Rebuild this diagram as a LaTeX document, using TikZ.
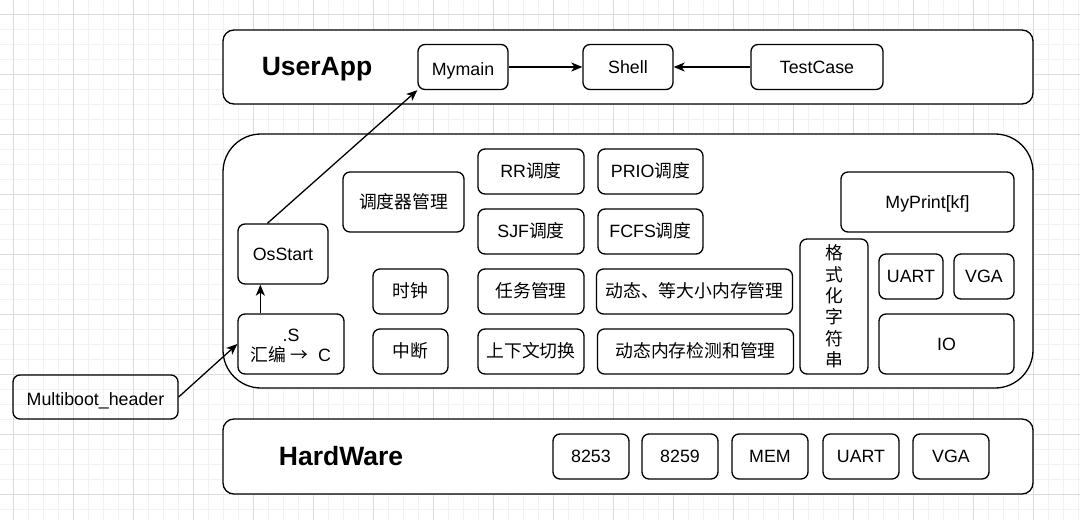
\documentclass[tikz,border=0pt]{standalone}
\usepackage{fontspec}
\setmainfont{Liberation Sans}
\newfontfamily\cjk{Noto Sans CJK SC}
\usepackage{xcolor}
\usetikzlibrary{arrows.meta}
\definecolor{gridminor}{HTML}{F2F2F2}
\definecolor{gridmajor}{HTML}{DCDCDC}

\begin{document}
\begin{tikzpicture}[x=1pt, y=-1pt,
  box/.style={draw, line width=1.3pt, rounded corners=7pt, inner sep=0pt, align=center,
    font=\fontsize{17.8}{21.4}\selectfont, text height=12.75pt, text depth=0pt},
  lowtext/.style={text height=17.3pt},
  layer/.style={draw, line width=1.3pt, inner sep=0pt, minimum width=810pt},
  title/.style={font=\fontsize{26.5}{30}\selectfont\bfseries, text height=19pt, text depth=0pt},
  link/.style={-{Stealth[length=11pt,width=9pt,inset=3pt]}, line width=1.3pt}]
\useasboundingbox (0,0) rectangle (1080,520);

\foreach \i in {0,...,72} \draw[gridminor, line width=1pt] ({-1.5+15*\i},0) -- ({-1.5+15*\i},520);
\foreach \j in {0,...,35} \draw[gridminor, line width=1pt] (0,{-1+15*\j}) -- (1080,{-1+15*\j});
\foreach \i in {0,...,17} \draw[gridmajor, line width=1pt] ({13.5+60*\i},0) -- ({13.5+60*\i},520);
\foreach \j in {0,...,8} \draw[gridmajor, line width=1pt] (0,{14+60*\j}) -- (1080,{14+60*\j});

\node[layer, fill=white, rounded corners=11pt, minimum height=74pt] (userapp) at (628,67) {};
\node[layer, fill=white, rounded corners=38pt, minimum height=254pt] (kernel) at (628,261) {};
\node[layer, fill=white, rounded corners=11pt, minimum height=75pt] (hardware) at (628,456.5) {};

\node[title] (userapp_title) at (317,66.3) {UserApp};
\node[title] (hardware_title) at (341,455.5) {HardWare};

\node[box, lowtext, minimum width=90pt, minimum height=45pt] (mymain) at (463,67) {Mymain};
\node[box, minimum width=90pt, minimum height=45pt] (shell) at (628,67) {Shell};
\node[box, minimum width=132pt, minimum height=45pt] (testcase) at (817,67) {TestCase};

\node[box, minimum width=90pt, minimum height=60pt] (osstart) at (283,254) {OsStart};
\node[box, minimum width=106pt, minimum height=60pt, text height=34.8pt, text depth=0pt,
  font=\fontsize{17.8}{19.7}\selectfont] (asm) at (291,344) {.S\\{\cjk 汇编 →}\ \ C};
\node[box, lowtext, minimum width=165pt, minimum height=44pt] (multiboot) at (95.5,397) {Multiboot\_header};

\node[box, minimum width=121pt, minimum height=60pt] (scheduler) at (403.5,202) {\cjk 调度器管理};
\node[box, minimum width=106pt, minimum height=45pt] (rr) at (531,171.5) {RR{\cjk 调度}};
\node[box, minimum width=106pt, minimum height=45pt] (sjf) at (531,231.5) {SJF{\cjk 调度}};
\node[box, minimum width=105pt, minimum height=45pt] (prio) at (650.5,171.5) {PRIO{\cjk 调度}};
\node[box, minimum width=105pt, minimum height=45pt] (fcfs) at (650.5,231.5) {FCFS{\cjk 调度}};
\node[box, minimum width=75pt, minimum height=45pt] (clock) at (410.5,291.5) {\cjk 时钟};
\node[box, minimum width=75pt, minimum height=45pt] (interrupt) at (410.5,351.5) {\cjk 中断};
\node[box, minimum width=106pt, minimum height=45pt] (task) at (531,291.5) {\cjk 任务管理};
\node[box, minimum width=106pt, minimum height=45pt] (context) at (531,351.5) {\cjk 上下文切换};
\node[box, minimum width=196pt, minimum height=45pt] (mempool) at (694.5,291.5) {\cjk 动态、等大小内存管理};
\node[box, minimum width=196pt, minimum height=45pt] (memdyn) at (695.5,351.5) {\cjk 动态内存检测和管理};
\node[box, minimum width=68pt, minimum height=135pt, text height={}, text depth={},
  font=\fontsize{17.8}{21.4}\selectfont\cjk] (format) at (834,306.5) {格\\式\\化\\字\\符\\串};
\node[box, minimum width=173pt, minimum height=60pt] (myprint) at (927.5,202) {MyPrint[kf]};
\node[box, minimum width=64pt, minimum height=45pt] (kuart) at (911,276.5) {UART};
\node[box, minimum width=60pt, minimum height=45pt] (kvga) at (984,276.5) {VGA};
\node[box, minimum width=135pt, minimum height=60pt] (io) at (946.5,344) {IO};

\node[box, minimum width=76pt, minimum height=45pt] (hw_8253) at (591,456.5) {8253};
\node[box, minimum width=76pt, minimum height=45pt] (hw_8259) at (680,456.5) {8259};
\node[box, minimum width=76pt, minimum height=45pt] (hw_mem) at (770,456.5) {MEM};
\node[box, minimum width=76pt, minimum height=45pt] (hw_uart) at (861,456.5) {UART};
\node[box, minimum width=76pt, minimum height=45pt] (hw_vga) at (951,456.5) {VGA};

\draw[link] (mymain) -- (shell);
\draw[link] (testcase) -- (shell);
\draw[link] (multiboot.east) -- (asm.west);
\draw[link] ([xshift=23pt]asm.north west) -- ([xshift=23pt]osstart.south west);
\draw[link] ([xshift=30pt]osstart.north west) -- (mymain.south west);

\end{tikzpicture}
\end{document}
